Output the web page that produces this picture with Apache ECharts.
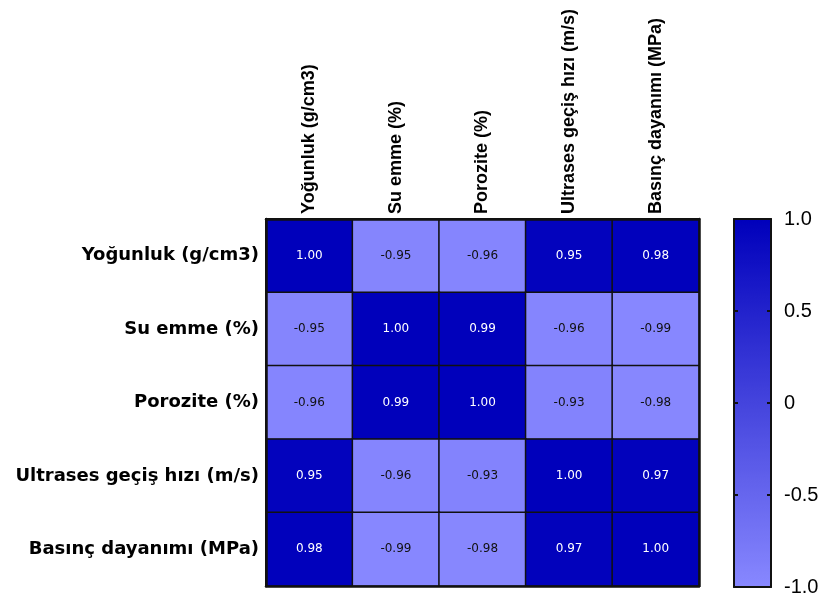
<!DOCTYPE html>
<html>
<head>
<meta charset="utf-8">
<script src="https://cdn.jsdelivr.net/npm/echarts@6/dist/echarts.min.js"></script>
<style>
  html, body { margin: 0; padding: 0; background: #fff; }
  #chart { width: 827px; height: 604px; }
</style>
</head>
<body>
<div id="chart"></div>
<script>
// Variables of the correlation matrix (same order on both axes)
const variables = [
  'Yoğunluk (g/cm3)',
  'Su emme (%)',
  'Porozite (%)',
  'Ultrases geçiş hızı (m/s)',
  'Basınç dayanımı (MPa)'
];

// Pearson correlation coefficients, one row per variable
const rowYogunluk = [1.00, -0.95, -0.96, 0.95, 0.98];
const rowSuEmme   = [-0.95, 1.00, 0.99, -0.96, -0.99];
const rowPorozite = [-0.96, 0.99, 1.00, -0.93, -0.98];
const rowUltrases = [0.95, -0.96, -0.93, 1.00, 0.97];
const rowBasinc   = [0.98, -0.99, -0.98, 0.97, 1.00];

// Colour scale ticks
const scaleTicks = [-1, -0.5, 0, 0.5, 1];
const scaleTickLabels = ['-1.0', '-0.5', '0', '0.5', '1.0'];

const rows = [rowYogunluk, rowSuEmme, rowPorozite, rowUltrases, rowBasinc];
const cells = [];
rows.forEach((row, r) => row.forEach((v, c) => cells.push([c, r, v])));

const frame = { show: true, onZero: false, lineStyle: { color: '#111', width: 2.5 } };
const thinFrame = { show: true, onZero: false, lineStyle: { color: '#111', width: 2 } };

const chart = echarts.init(document.getElementById('chart'));
chart.setOption({
  backgroundColor: '#fff',
  animation: false,
  grid: [
    { left: 266, top: 219, width: 433, height: 367 },
    { left: 734, top: 219, width: 37, height: 368 }
  ],
  xAxis: [
    {
      type: 'category', gridIndex: 0, position: 'top', data: variables,
      axisLine: frame, axisTick: { show: false }, splitLine: { show: false }, z: 10,
      axisLabel: {
        rotate: -90, margin: 5, color: '#000', fontWeight: 'bold',
        fontFamily: '"Liberation Sans", Arial, sans-serif', fontSize: 18
      }
    },
    {
      type: 'category', gridIndex: 0, position: 'bottom', data: variables,
      axisLine: frame, axisTick: { show: false }, axisLabel: { show: false }, z: 10
    },
    {
      type: 'category', gridIndex: 1, position: 'top', data: [''],
      axisLine: thinFrame, axisTick: { show: false }, axisLabel: { show: false }, z: 10
    },
    {
      type: 'category', gridIndex: 1, position: 'bottom', data: [''],
      axisLine: thinFrame, axisTick: { show: false }, axisLabel: { show: false }, z: 10
    }
  ],
  yAxis: [
    {
      type: 'category', gridIndex: 0, position: 'left', inverse: true, data: variables,
      axisLine: frame, axisTick: { show: false }, splitLine: { show: false }, z: 10,
      axisLabel: {
        margin: 7, color: '#000', fontWeight: 'bold',
        fontFamily: '"DejaVu Sans", sans-serif', fontSize: 18
      }
    },
    {
      type: 'category', gridIndex: 0, position: 'right', inverse: true, data: variables,
      axisLine: frame, axisTick: { show: false }, axisLabel: { show: false }, z: 10
    },
    {
      type: 'value', gridIndex: 1, position: 'right', min: -1, max: 1, interval: 0.5,
      axisLine: thinFrame, splitLine: { show: false }, z: 10,
      axisTick: { show: true, inside: true, length: 4, lineStyle: { color: '#111', width: 2 } },
      axisLabel: {
        margin: 13, color: '#000', fontSize: 20,
        fontFamily: '"Liberation Sans", Arial, sans-serif',
        formatter: v => scaleTickLabels[scaleTicks.findIndex(t => Math.abs(t - v) < 1e-9)] || ''
      }
    },
    {
      type: 'value', gridIndex: 1, position: 'left', min: -1, max: 1, interval: 0.5,
      axisLine: thinFrame, splitLine: { show: false }, axisLabel: { show: false }, z: 10,
      axisTick: { show: true, inside: true, length: 4, lineStyle: { color: '#111', width: 2 } }
    }
  ],
  visualMap: {
    type: 'continuous', min: -1, max: 1, calculable: false, seriesIndex: 0,
    orient: 'vertical', left: 734, top: 219, itemWidth: 37, itemHeight: 368,
    padding: 0, text: null, hoverLink: false,
    inRange: { color: ['#8888FF', '#0000BB'] }
  },
  series: [{
    type: 'heatmap', xAxisIndex: 0, yAxisIndex: 0, data: cells,
    itemStyle: { borderColor: '#111', borderWidth: 1.5 },
    emphasis: { disabled: true },
    label: {
      show: true,
      formatter: p => (p.value[2] >= 0 ? '{d|' : '{l|') + p.value[2].toFixed(2) + '}',
      rich: {
        d: { color: '#fff', fontSize: 12, fontFamily: '"DejaVu Sans", sans-serif' },
        l: { color: '#111', fontSize: 12, fontFamily: '"DejaVu Sans", sans-serif' }
      }
    }
  }]
});
</script>
</body>
</html>
